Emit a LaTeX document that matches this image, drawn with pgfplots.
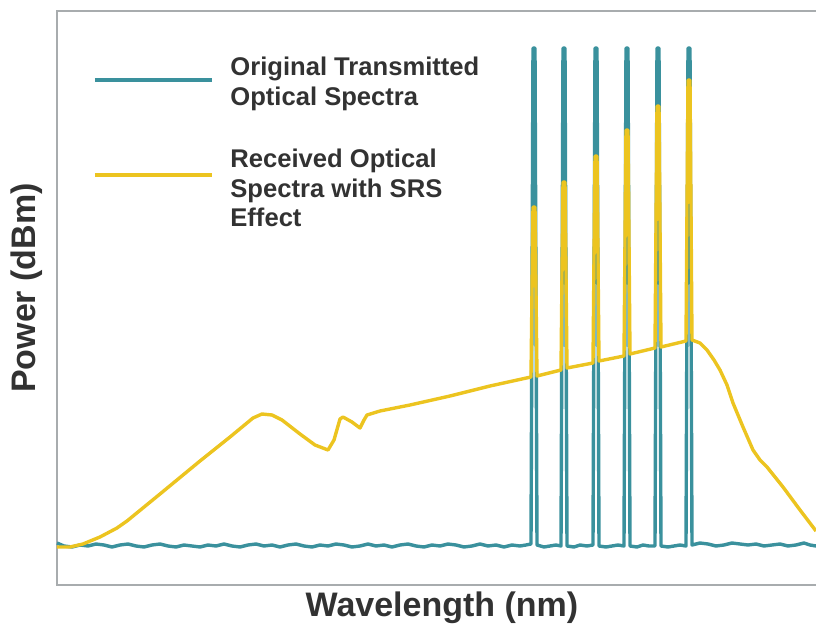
\documentclass[border=0pt]{standalone}
\usepackage{pgfplots}
\pgfplotsset{compat=1.18}
\usepackage{fontspec}
\setmainfont{Liberation Sans}
\definecolor{specteal}{RGB}{58,145,157}
\definecolor{specyellow}{RGB}{236,196,32}
\definecolor{labelgray}{RGB}{50,50,50}
\definecolor{framegray}{RGB}{168,172,174}

\begin{document}
\begin{tikzpicture}
\begin{axis}[
    scale only axis,
    width=379.5pt, height=287pt,
    xmin=57, xmax=816, ymin=11, ymax=585,
    y dir=reverse,
    axis line style={draw=none},
    ticks=none,
    clip=false,
    xlabel={Wavelength (nm)},
    ylabel={Power (dBm)},
    label style={font=\bfseries\fontsize{17}{20}\selectfont, text=labelgray},
    xlabel style={at={(axis cs:442,608)}, anchor=center},
    ylabel style={at={(axis cs:27,288)}, anchor=center, rotate=0},
]
% frame (right side runs off the picture)
\draw[framegray, line width=1pt] (axis cs:816,11) -- (axis cs:57,11) -- (axis cs:57,585) -- (axis cs:816,585);

% original transmitted spectrum
\addplot[specteal, line width=1.7pt, line join=round] coordinates {
(57,543) (64,546) (72,547) (80,545) (88,546) (96,544) (104,545) (112,547) (120,545) (128,544)
(136,546) (144,547) (152,545) (160,544) (168,546) (176,547) (184,545) (192,546) (200,547) (208,545)
(216,546) (224,544) (232,546) (240,547) (248,545) (256,544) (264,546) (272,545) (280,547) (288,545)
(296,544) (304,546) (312,547) (320,545) (328,546) (336,544) (344,545) (352,547) (360,546) (368,544)
(376,546) (384,545) (392,547) (400,545) (408,544) (416,546) (424,547) (432,545) (440,546) (448,544)
(456,545) (464,547) (472,546) (480,544) (488,546) (496,545) (504,547) (512,545) (520,546) (526,545)
(531,544) (533,48) (535,48) (537,545) (544,547) (550,546) (556,545)
(561,546) (563,48) (565,48) (567,546) (574,547) (580,545) (587,546)
(593,545) (595,48) (597,48) (599,546) (606,547) (612,546) (618,545)
(624,546) (626,48) (628,48) (630,546) (637,547) (643,545) (649,546)
(655,546) (657,48) (659,48) (661,546) (668,547) (674,546) (680,545)
(686,546) (688,48) (690,48) (692,545) (700,543) (708,544) (716,546) (724,545) (732,543)
(740,544) (748,545) (756,544) (764,546) (772,545) (780,544) (788,546) (796,545) (804,543) (810,545) (816,546)
};

% received spectrum with SRS
\addplot[specyellow, line width=1.7pt, line join=round] coordinates {
(57,547) (70,547) (83,544) (100,537) (117,528) (127,521) (160,494) (200,461) (230,437) (253,418)
(262,414) (272,415) (282,420) (300,434) (315,445) (328,450) (334,440) (340,419) (343,417) (352,422)
(360,428) (364,420) (367,415) (380,411) (410,405) (450,396) (490,386)
(531,377) (533,207) (535,207) (537,376)
(561,370) (563,182) (565,182) (567,368)
(593,363) (595,156) (597,156) (599,361)
(624,356) (626,130) (628,130) (630,354)
(655,348) (657,106) (659,106) (661,347)
(686,341) (688,80) (690,80) (692,340)
(700,343) (707,350) (714,360) (720,370) (727,385) (733,403) (743,427) (753,450) (760,460)
(767,467) (775,477) (783,487) (800,510) (816,531)
};

% legend
\draw[specteal, line width=1.7pt] (axis cs:95,80) -- (axis cs:212,80);
\draw[specyellow, line width=1.7pt] (axis cs:95,175) -- (axis cs:212,175);
\node[anchor=north west, align=left, inner sep=0pt, text=labelgray,
      font=\bfseries\fontsize{12.8}{14.6}\selectfont] at (axis cs:230,57)
      {Original Transmitted\\Optical Spectra};
\node[anchor=north west, align=left, inner sep=0pt, text=labelgray,
      font=\bfseries\fontsize{12.8}{14.6}\selectfont] at (axis cs:230,149)
      {Received Optical\\Spectra with SRS\\Effect};

\coordinate (bbsw) at (axis cs:0,626);
\coordinate (bbne) at (axis cs:816,0);
\end{axis}
\pgfresetboundingbox
\path[use as bounding box] (bbsw) rectangle (bbne);
\end{tikzpicture}
\end{document}
